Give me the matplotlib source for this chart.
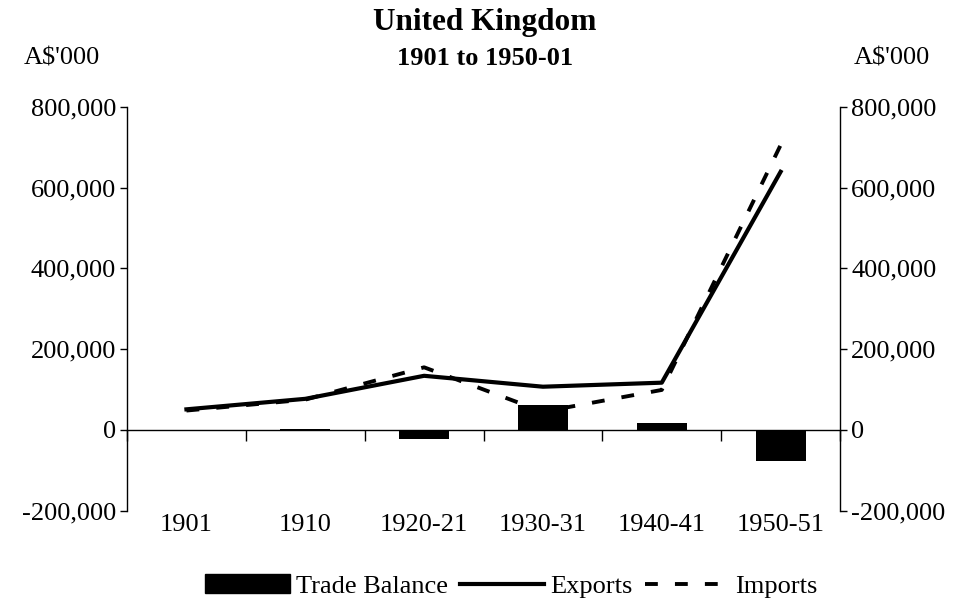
import numpy as np
import matplotlib.pyplot as plt
from matplotlib.patches import Patch
from matplotlib.lines import Line2D

plt.rcParams['font.family'] = ['Liberation Serif', 'DejaVu Serif']

# Data (A$'000)
years = ["1901", "1910", "1920-21", "1930-31", "1940-41", "1950-51"]
exports = [51000, 77000, 134000, 107000, 117000, 639000]
imports = [48000, 75000, 155000, 45000, 99000, 705000]
balance = [1000, 2000, -22000, 62000, 18000, -76000]

ymin, ymax = -200000, 800000
yticks = np.arange(ymin, ymax + 1, 200000)
fs = 19
dash = (0, (3.3, 4.4))

fig = plt.figure(figsize=(9.55, 6.03), dpi=100)
ax = fig.add_axes([0.133, 0.153, 0.7466, 0.67])

x = np.arange(len(years))
ax.bar(x, balance, width=0.42, color='black', zorder=2)
ax.plot(x, imports, color='black', lw=2.8, linestyle=dash, zorder=3)
ax.plot(x, exports, color='black', lw=3.0, zorder=4)

ax.set_xlim(-0.5, len(years) - 0.5)
ax.set_ylim(ymin, ymax)

# left axis
ax.set_yticks(yticks)
ax.set_yticklabels([f"{v:,.0f}" for v in yticks], fontsize=fs)
ax.tick_params(axis='y', direction='out', length=5, width=1, pad=3)
for s in ['top', 'right', 'bottom']:
    ax.spines[s].set_visible(False)

# category labels at the bottom
ax.set_xticks(x)
ax.set_xticklabels(years, fontsize=fs)
ax.tick_params(axis='x', length=0, pad=2)

# right axis
ax2 = ax.twinx()
ax2.set_ylim(ymin, ymax)
ax2.set_yticks(yticks)
ax2.set_yticklabels([f"{v:,.0f}" for v in yticks], fontsize=fs)
ax2.tick_params(axis='y', direction='out', length=5, width=1, pad=3)
for s in ['top', 'left', 'bottom']:
    ax2.spines[s].set_visible(False)

# zero line with boundary ticks
zero_pos = (0 - ymin) / (ymax - ymin)
sec = ax.secondary_xaxis(zero_pos)
sec.set_xticks(np.arange(-0.5, len(years) + 0.5, 1))
sec.set_xticklabels([])
sec.tick_params(axis='x', direction='out', length=8, width=1)
sec.spines['bottom'].set_linewidth(1)

for a in (ax, ax2):
    for s in a.spines.values():
        s.set_linewidth(1)

fig.text(0.508, 0.962, "United Kingdom", ha='center', va='center',
         fontsize=22.5, fontweight='bold')
fig.text(0.508, 0.903, "1901 to 1950-01", ha='center', va='center',
         fontsize=fs, fontweight='bold')
fig.text(0.065, 0.903, "A$'000", ha='center', va='center', fontsize=fs)
fig.text(0.934, 0.903, "A$'000", ha='center', va='center', fontsize=fs)

handles = [Patch(facecolor='black', edgecolor='black'),
           Line2D([], [], color='black', lw=3.0),
           Line2D([], [], color='black', lw=2.8, linestyle=dash)]
fig.legend(handles, ["Trade Balance", "Exports", "Imports"],
           loc='center', bbox_to_anchor=(0.5356, 0.028), ncol=3, frameon=False,
           fontsize=fs, handlelength=3.2, handleheight=0.72,
           handletextpad=0.22, columnspacing=0.47, borderpad=0.1)

fig.savefig("out.png", dpi=100)
